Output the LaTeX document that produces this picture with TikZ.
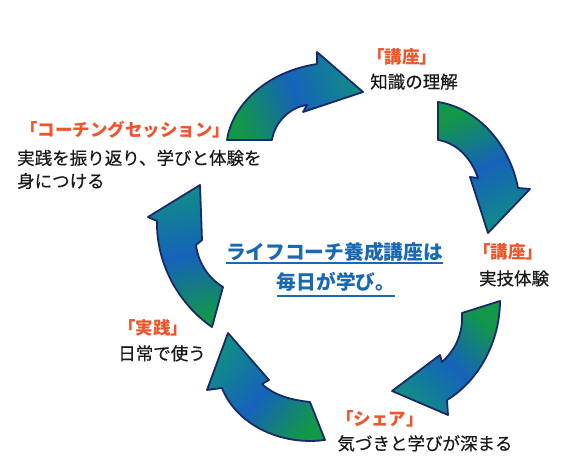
\documentclass[tikz,border=0pt]{standalone}
\usepackage{fontspec}
\newfontfamily\jp{Noto Sans CJK JP}
\newfontfamily\jpbody[FakeBold=0.5]{Noto Sans CJK JP}
\definecolor{tailgreen}{RGB}{18,152,72}
\definecolor{headteal}{RGB}{16,140,135}
\definecolor{midblue}{RGB}{22,98,186}
\definecolor{edgeblue}{RGB}{25,40,105}
\definecolor{titlered}{RGB}{240,84,42}
\definecolor{centerblue}{RGB}{24,104,178}
\tikzset{
  cyclearrow/.style={draw=edgeblue, line width=1.8pt, line join=round,
    top color=tailgreen, bottom color=headteal, middle color=midblue, shading angle=#1},
  titletext/.style={font=\jp\bfseries\fontsize{17.5}{20}\selectfont, text=titlered, inner sep=0pt, anchor=base},
  bodytext/.style={font=\jpbody\fontsize{17.5}{20}\selectfont, text=black!90, inner sep=0pt, anchor=base},
  centertext/.style={font=\jp\bfseries\fontsize{19.7}{22}\selectfont, text=centerblue, inner sep=0pt, anchor=base},
  uline/.style={draw=centerblue, line width=2pt}
}
\begin{document}
\begin{tikzpicture}[x=1pt,y=-1pt]
\useasboundingbox (0,0) rectangle (573,470);
% arrows
\path[cyclearrow=110] (227,140) .. controls (232,106) and (265,72) .. (317,64) -- (317,52) -- (363,92) -- (303,112) -- (307,105) .. controls (291,107) and (275,121) .. (272,140) -- cycle;
\path[cyclearrow=25] (438,102) .. controls (478,108) and (510,145) .. (518,188) -- (530,189) -- (488,233) -- (470,177) -- (478,178) .. controls (472,160) and (458,143) .. (438,140) -- cycle;
\path[cyclearrow=-45] (500,301) .. controls (500,340) and (480,380) .. (447,400) -- (448,415) -- (392,391) -- (440,355) -- (442,362) .. controls (455,350) and (463,335) .. (462,313) -- cycle;
\path[cyclearrow=230] (228,333) -- (269,380) -- (262,384) .. controls (275,396) and (292,400) .. (310,402) -- (325,440) .. controls (280,446) and (236,424) .. (222,388) -- (207,390) -- cycle;
\path[cyclearrow=190] (200,185) -- (202,240) -- (196,245) .. controls (198,262) and (208,278) .. (223,287) -- (212,327) .. controls (180,305) and (156,265) .. (157,221) -- (148,217) -- cycle;
% labels
\node[titletext] (t1) at (402,63.5) {「講座」};
\node[bodytext] (b1) at (414,88.3) {知識の理解};
\node[titletext] (t2) at (508,258.3) {「講座」};
\node[bodytext] (b2) at (514,285) {実技体験};
\node[titletext] (t3) at (125,136.6) {「コーチングセッション」};
\node[bodytext, anchor=base west] (b3a) at (17,164.6) {実践を振り返り、学びと体験を};
\node[bodytext, anchor=base west] (b3b) at (17,187.6) {身につける};
\node[titletext] (t4) at (153,334.6) {「実践」};
\node[bodytext] (b4) at (162,360) {日常で使う};
\node[titletext] (t5) at (380,425) {「シェア」};
\node[bodytext] (b5) at (425,450) {気づきと学びが深まる};
% center
\node[centertext] (c1) at (334.5,259.2) {ライフコーチ養成講座は};
\node[centertext] (c2) at (336,289.2) {毎日が学び。};
\draw[uline] ([yshift=-4.1pt]c1.base west) -- ([yshift=-4.1pt]c1.base east);
\draw[uline] ([yshift=-6.5pt]c2.base west) -- ([yshift=-6.5pt]c2.base east);
\end{tikzpicture}
\end{document}
